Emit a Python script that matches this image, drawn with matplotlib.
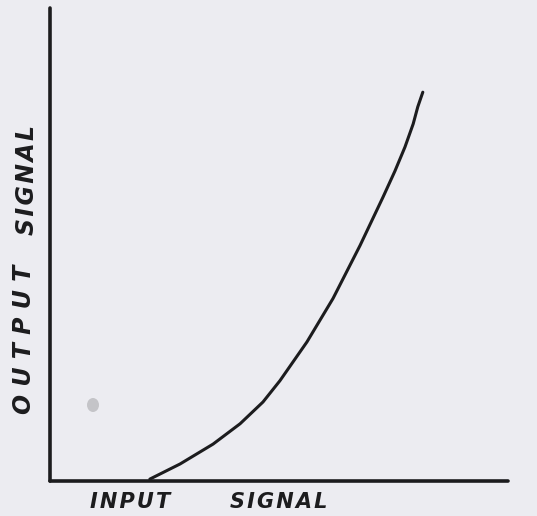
import matplotlib.pyplot as plt
from matplotlib.patches import Ellipse

# transfer curve: output signal vs input signal (arbitrary units, 0-100)
input_signal = [21.8, 28.4, 35.6, 41.5, 46.5, 50.2, 56.1, 61.8, 67.7, 72.7,
                75.3, 77.5, 79.3, 80.3, 81.4]
output_signal = [0.4, 3.6, 7.8, 12.1, 16.7, 21.2, 29.4, 38.6, 49.8, 60.0,
                 65.5, 70.6, 75.5, 79.1, 82.2]

x_label_words = ["INPUT", "SIGNAL"]
y_label_words = ["OUTPUT", "SIGNAL"]

paper = "#ececf1"
ink = "#1c1c1e"
W, H = 537, 516

fig = plt.figure(figsize=(W / 100, H / 100), dpi=100, facecolor=paper)
ax = fig.add_axes([50 / W, 35 / H, 458 / W, 473 / H])
ax.set_facecolor(paper)
ax.set_xlim(0, 100)
ax.set_ylim(0, 100)

for side in ["top", "right"]:
    ax.spines[side].set_visible(False)
for side in ["left", "bottom"]:
    ax.spines[side].set_color(ink)
    ax.spines[side].set_linewidth(2.6)
    ax.spines[side].set_capstyle("round")
ax.set_xticks([])
ax.set_yticks([])

ax.plot(input_signal, output_signal, color=ink, lw=2.2,
        solid_capstyle="round", solid_joinstyle="round")

# small grey smudge on the paper
fig.patches.append(Ellipse((93 / W, 1 - 405 / H), 12 / W, 14 / H,
                           transform=fig.transFigure, color="#c4c4c8", lw=0))


def spaced(word, gap):
    # hand lettering is spread out a little
    return gap.join(word)


lab = dict(color=ink, fontweight="bold", style="italic", family="DejaVu Sans")
fig.text(90 / W, 1 - 508 / H, spaced(x_label_words[0], "\u200a"), fontsize=15,
         ha="left", va="baseline", **lab)
fig.text(230 / W, 1 - 508 / H, spaced(x_label_words[1], "\u200a"), fontsize=15,
         ha="left", va="baseline", **lab)

fig.text(24 / W, 1 - 339 / H, spaced(y_label_words[0], " "), fontsize=17, rotation=90,
         ha="center", va="center", **lab)
fig.text(27 / W, 1 - 180 / H, spaced(y_label_words[1], "\u200a"), fontsize=17, rotation=90,
         ha="center", va="center", **lab)

fig.savefig("out.png", dpi=100, facecolor=paper)
